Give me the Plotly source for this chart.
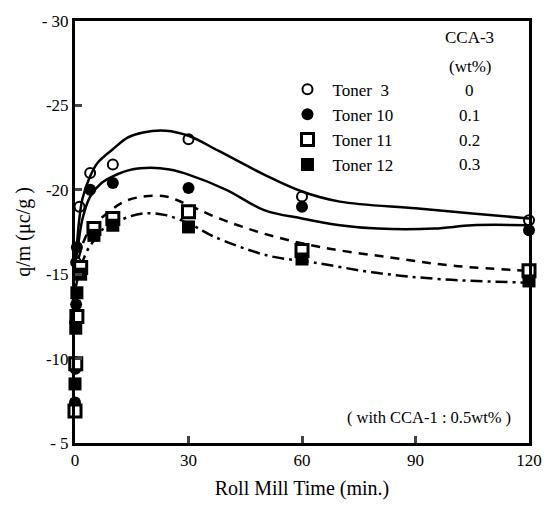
import plotly.graph_objects as go

# ---- measured points ----
toner3_t = [0, 0.1, 0.3, 1.2, 4, 10, 30, 60, 120]
toner3_q = [-9.8, -12.2, -15.7, -19.0, -21.0, -21.5, -23.0, -19.6, -18.2]

toner10_t = [0, 0.1, 0.3, 0.5, 4, 10, 30, 60, 120]
toner10_q = [-7.4, -9.4, -13.2, -16.6, -20.0, -20.4, -20.1, -19.0, -17.6]

toner11_t = [0, 0.2, 0.5, 1.5, 5, 10, 30, 60, 120]
toner11_q = [-6.9, -9.7, -12.5, -15.4, -17.7, -18.3, -18.7, -16.4, -15.2]

toner12_t = [0, 0.2, 0.5, 1.5, 5, 10, 30, 60, 120]
toner12_q = [-8.5, -11.8, -13.9, -15.0, -17.3, -17.9, -17.8, -15.9, -14.6]

# ---- fitted curves ----
fit3_t = [0, 1, 2, 4, 6, 10, 14, 18, 24, 30, 38, 50, 60, 70, 90, 105, 120]
fit3_q = [-15.0, -18.0, -19.5, -20.8, -21.6, -22.4, -23.1, -23.4, -23.5, -23.2, -22.3, -20.9, -19.9, -19.3, -18.9, -18.6, -18.3]

fit10_t = [0, 1, 2, 4, 7, 10, 15, 20, 25, 30, 40, 50, 60, 70, 80, 95, 105, 120]
fit10_q = [-15.5, -17.0, -18.3, -19.6, -20.4, -20.8, -21.2, -21.3, -21.2, -20.9, -20.0, -18.8, -18.3, -17.9, -17.7, -17.7, -17.9, -17.9]

fit11_t = [0, 1, 3, 5, 9, 13, 18, 24, 29, 37, 50, 65, 83, 100, 120]
fit11_q = [-15.0, -16.0, -17.3, -17.9, -18.7, -19.3, -19.6, -19.6, -19.2, -18.4, -17.4, -16.6, -16.0, -15.5, -15.2]

fit12_t = [0, 1, 3, 5, 7, 13, 18, 24, 31, 37, 51, 63, 79, 97, 120]
fit12_q = [-14.0, -15.0, -16.3, -17.0, -17.6, -18.3, -18.6, -18.5, -17.9, -17.2, -16.1, -15.7, -15.1, -14.7, -14.5]

names = ["Toner  3", "Toner 10", "Toner 11", "Toner 12"]
cca3 = ["0", "0.1", "0.2", "0.3"]

x_ticks = [0, 30, 60, 90, 120]
y_ticks = [-30, -25, -20, -15, -10, -5]
y_ticktext = ["- 30", "-25", "-20", "-15", "-10", "- 5"]

FONT = "Liberation Serif"
fig = go.Figure()

fits = [(fit3_t, fit3_q, "solid"), (fit10_t, fit10_q, "solid"),
        (fit11_t, fit11_q, "9px,7px"), (fit12_t, fit12_q, "12px,5px,3px,5px")]
for t, q, d in fits:
    fig.add_trace(go.Scatter(x=t, y=q, mode="lines", showlegend=False,
                             line=dict(color="black", width=2.5, dash=d, shape="spline", smoothing=1.0),
                             hoverinfo="skip"))

markers = [
    (toner3_t, toner3_q, dict(symbol="circle-open", size=10, color="black", line=dict(width=2, color="black"))),
    (toner10_t, toner10_q, dict(symbol="circle", size=12, color="black")),
    (toner11_t, toner11_q, dict(symbol="square", size=12, color="white", line=dict(width=3, color="black"))),
    (toner12_t, toner12_q, dict(symbol="square", size=13, color="black")),
]
for (t, q, m), n in zip(markers, names):
    fig.add_trace(go.Scatter(x=t, y=q, mode="markers", name=n, marker=m, cliponaxis=False))

# CCA-3 column
col_x = 0.87
rows_y = [0.836, 0.776, 0.717, 0.659]
for v, yy in zip(cca3, rows_y):
    fig.add_annotation(x=col_x, y=yy, xref="paper", yref="paper", text=v, showarrow=False,
                       font=dict(family=FONT, size=17, color="black"), xanchor="center", yanchor="middle")
fig.add_annotation(x=col_x, y=0.960, xref="paper", yref="paper", text="CCA-3", showarrow=False,
                   font=dict(family=FONT, size=17, color="black"), xanchor="center", yanchor="middle")
fig.add_annotation(x=col_x, y=0.893, xref="paper", yref="paper", text="(wt%)", showarrow=False,
                   font=dict(family=FONT, size=17, color="black"), xanchor="center", yanchor="middle")
fig.add_annotation(x=0.965, y=0.061, xref="paper", yref="paper", text="( with CCA-1 : 0.5wt% )",
                   showarrow=False, font=dict(family=FONT, size=16.5, color="black"),
                   xanchor="right", yanchor="middle")

fig.update_layout(
    width=554, height=508,
    margin=dict(l=75, r=24, t=18, b=62),
    paper_bgcolor="white", plot_bgcolor="white",
    font=dict(family=FONT, size=17, color="black"),
    legend=dict(x=0.457, y=0.88, xanchor="left", yanchor="top", bgcolor="rgba(0,0,0,0)",
                font=dict(family=FONT, size=17, color="black"), tracegroupgap=0, itemwidth=40),
)
fig.update_xaxes(range=[0, 120], tickvals=x_ticks, ticks="inside", ticklen=7, tickwidth=2.5,
                 showline=True, linewidth=3, linecolor="black", mirror=True, showgrid=False,
                 zeroline=False, title=dict(text="Roll Mill Time (min.)", standoff=12),
                 tickfont=dict(family=FONT, size=17))
fig.update_yaxes(range=[-5, -30], tickvals=y_ticks, ticktext=y_ticktext, ticks="inside", ticklen=7,
                 tickwidth=2.5, showline=True, linewidth=3, linecolor="black", mirror=True,
                 showgrid=False, zeroline=False, title=dict(text="q/m (μc/g )", standoff=6),
                 tickfont=dict(family=FONT, size=17))

fig.write_html("out.html")
